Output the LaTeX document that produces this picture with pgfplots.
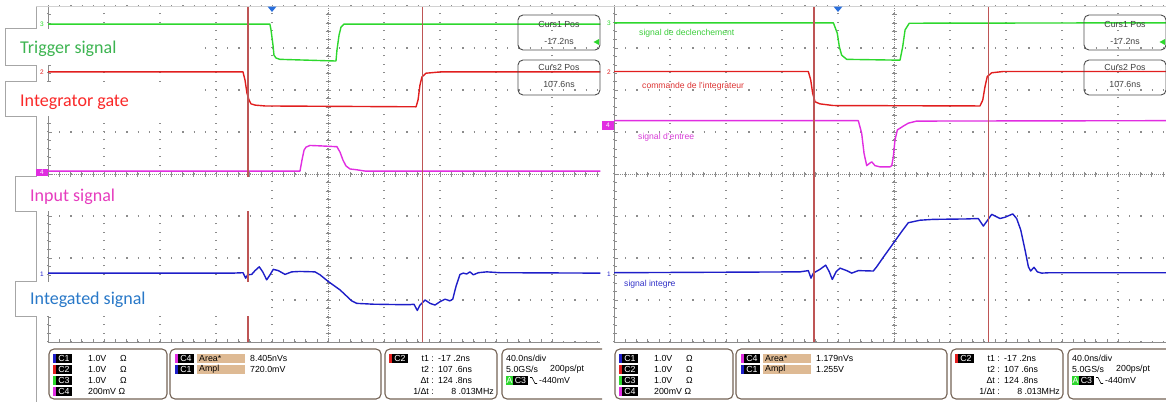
\documentclass[border=0pt]{standalone}
\usepackage{pgfplots}
\pgfplotsset{compat=1.18}
\usepackage{fontspec}
\setmainfont{Liberation Sans}
\newfontfamily\carlito{Carlito}

\definecolor{trgreen}{RGB}{45,215,45}
\definecolor{trred}{RGB}{225,30,30}
\definecolor{trmag}{RGB}{225,45,225}
\definecolor{trblue}{RGB}{30,30,200}
\definecolor{cursc}{RGB}{190,85,85}
\definecolor{gridc}{RGB}{140,140,140}
\definecolor{boxc}{RGB}{115,98,85}
\definecolor{tanc}{RGB}{222,186,148}
\definecolor{lgreen}{RGB}{60,180,80}
\definecolor{lred}{RGB}{250,40,40}
\definecolor{lmag}{RGB}{230,60,190}
\definecolor{lblue}{RGB}{40,120,200}
\definecolor{trigblue}{RGB}{40,110,220}
\definecolor{frgreen}{RGB}{60,205,60}
\definecolor{frred}{RGB}{220,50,50}
\definecolor{frmag}{RGB}{215,60,215}
\definecolor{frblue}{RGB}{50,50,200}

\newcommand\scopefont{\fontsize{8.8}{10}\selectfont}

\pgfplotsset{scopeax/.style={
  scale only axis, width=552.3pt, height=336pt,
  xmin=-160, xmax=234.5, ymin=-4, ymax=4,
  axis lines=left, axis line style={-, draw=gridc, line width=0.8pt},
  xtick={-160,-120,...,200}, ytick={-4,-3,...,4},
  minor x tick num=4, minor y tick num=4,
  xticklabels={}, yticklabels={},
  tick align=inside, major tick length=3.5pt, minor tick length=3pt,
  tick style={gridc, line width=0.6pt},
  grid=major,
  x grid style={gridc, line width=1.1pt, dash pattern=on 1.1pt off 7.3pt},
  y grid style={gridc, line width=1.1pt, dash pattern=on 1.1pt off 10.1pt},
  anchor=north west,
  every axis plot/.append style={line width=1.4pt, line join=round},
}}

% channel tag: x y colour label
\newcommand{\chtag}[4]{%
  \fill[#3] (#1,#2-4.5) rectangle ++(3,9);
  \fill[black] (#1+3,#2-4.5) rectangle ++(16,9);
  \node[text=white, font=\scopefont, inner sep=0pt, anchor=center] at (#1+11,#2) {#4};
}

% bottom information boxes (left-panel coordinates)
\newcommand{\infoboxes}[2]{%
  \draw[boxc, line width=1.1pt, rounded corners=5pt] (49,349) rectangle (167,399);
  \draw[boxc, line width=1.1pt, rounded corners=5pt] (170,349) rectangle (381,399);
  \draw[boxc, line width=1.1pt, rounded corners=5pt] (385,349) rectangle (497,399);
  \draw[boxc, line width=1.1pt, rounded corners=5pt] (502,349) rectangle (640,399);
  \chtag{53}{358.5}{trblue}{C1}
  \chtag{53}{369.5}{trred}{C2}
  \chtag{53}{380.5}{trgreen}{C3}
  \chtag{53}{391.5}{trmag}{C4}
  \chtag{175}{358.5}{trmag}{C4}
  \chtag{175}{369.5}{trblue}{C1}
  \chtag{389}{358.5}{trred}{C2}
  \fill[tanc] (197,354) rectangle (245,363);
  \fill[tanc] (197,365) rectangle (245,374);
  \fill[trgreen] (506,376) rectangle (513,385);
  \fill[black] (513,376) rectangle (528,385);
  \node[text=white, font=\scopefont, inner sep=0pt] at (509.5,380.5) {A};
  \node[text=white, font=\scopefont, inner sep=0pt] at (520.5,380.5) {C3};
  \draw[black, line width=0.6pt] (530,377.5) -- (532,377.5) -- (535,383.5) -- (537,383.5);
  \begin{scope}[every node/.style={font=\scopefont, inner sep=0pt, anchor=west}]
  \node at (88,358.5) {1.0V}; \node at (120,358.5) {Ω};
  \node at (88,369.5) {1.0V}; \node at (120,369.5) {Ω};
  \node at (88,380.5) {1.0V}; \node at (120,380.5) {Ω};
  \node at (88,391.5) {200mV Ω};
  \node at (199,358.5) {Area*};
  \node at (199,369.5) {Ampl};
  \node at (250,358.5) {#1};
  \node at (250,369.5) {#2};
  \node[anchor=east] at (434,358.5) {t1 :};
  \node[anchor=east] at (434,369.5) {t2 :};
  \node[anchor=east] at (434,380.5) {Δt :};
  \node[anchor=east] at (434,391.5) {1/Δt :};
  \node at (438,358.5) {-17 .2ns};
  \node at (438,369.5) {107 .6ns};
  \node at (438,380.5) {124 .8ns};
  \node[anchor=east] at (494,391.5) {8 .013MHz};
  \node at (506,358.5) {40.0ns/div};
  \node at (506,369.5) {5.0GS/s};
  \node at (550,369.5) {200ps/pt};
  \node at (539,380.5) {-440mV};
  \end{scope}
}

\newcommand{\cursboxes}{%
  \draw[gray!60!black, line width=0.9pt, rounded corners=5pt] (518,15) rectangle (600,50);
  \draw[gray!60!black, line width=0.9pt, rounded corners=5pt] (518,60) rectangle (600,95);
  \begin{scope}[every node/.style={font=\scopefont, inner sep=0pt, text=black!75}]
  \node at (559,24) {Curs1 Pos};
  \node at (559,41) {-17.2ns};
  \node at (559,67) {Curs2 Pos};
  \node at (559,84) {107.6ns};
  \end{scope}
  \fill[trigblue] (267.5,6.5) -- (276.5,6.5) -- (272,12) -- cycle;
  \fill[trgreen] (593.5,42) -- (599,39) -- (599,45) -- cycle;
}

\begin{document}
\begin{tikzpicture}
\path[use as bounding box] (0pt,0pt) rectangle (1166pt,-402pt);

% centre lines of the graticules
\begin{scope}[x=1pt,y=-1pt]
\foreach \ox in {0,566}{
  \draw[gridc, line width=0.6pt, dash pattern=on 1pt off 1pt] (328+\ox,6) -- (328+\ox,342);
  \draw[gridc, line width=0.6pt, dash pattern=on 1pt off 1pt] (48+\ox,174) -- (600+\ox,174);
  \foreach \k in {1,...,39} \draw[gridc, line width=0.5pt] (325.5+\ox,6+8.4*\k) -- (330.5+\ox,6+8.4*\k);
  \foreach \k in {1,...,49} \draw[gridc, line width=0.5pt] (48+\ox+11.2*\k,171.5) -- (48+\ox+11.2*\k,176.5);
}
\end{scope}

% ---------------- left scope ----------------
\begin{axis}[scopeax, at={(48pt,-6pt)}]
\addplot[trgreen] coordinates {(-160,3.57) (-1.5,3.57) (-0.7,3.43) (0.7,3.07) (1.4,2.83) (2.9,2.76) (5.7,2.73) (45.7,2.69) (46.4,2.95) (47.9,3.31) (49.3,3.5) (51.4,3.57) (235,3.57)};
\addplot[trred] coordinates {(-160,2.43) (-20.7,2.43) (-19.3,2.24) (-17.9,1.93) (-16.4,1.76) (-15,1.67) (-12,1.64) (-5,1.62) (102.9,1.6) (104.3,1.76) (105.7,2.12) (107.1,2.31) (110,2.4) (120,2.43) (235,2.43)};
\addplot[trmag] coordinates {(-160,0.07) (20,0.07) (21.4,0.33) (22.9,0.57) (24.3,0.64) (27.1,0.68) (34.3,0.67) (46.4,0.65) (48.6,0.52) (50.7,0.33) (52.9,0.19) (55.7,0.12) (60.7,0.1) (66.4,0.07) (235,0.07)};
\addplot[trblue] coordinates {(-160,-2.36) (-27.9,-2.36) (-20.7,-2.35) (-18.8,-2.48) (-17.4,-2.40) (-14.5,-2.39) (-12.1,-2.30) (-9.1,-2.21) (-6.6,-2.33) (-3.8,-2.52) (-1.4,-2.40) (0.9,-2.27) (4.5,-2.30) (9.3,-2.39) (14.1,-2.33) (20,-2.32) (30.7,-2.33) (34.3,-2.40) (40.2,-2.56) (48.6,-2.76) (56.9,-3.02) (60.5,-3.08) (72.4,-3.10) (91.4,-3.11) (98.6,-3.11) (101.4,-3.10) (103.8,-3.25) (105.7,-3.12) (109.3,-3.0) (112.9,-3.08) (116.4,-3.12) (120,-3.04) (123.6,-2.98) (127.1,-3.02) (129.1,-2.98) (131.4,-2.68) (134.3,-2.39) (136.6,-2.36) (139.1,-2.38) (141.4,-2.33) (143.8,-2.40) (147.4,-2.35) (153.4,-2.33) (162.9,-2.35) (235,-2.36)};
\addplot[cursc, line width=1.5pt] coordinates {(-17.2,-4) (-17.2,4)};
\addplot[cursc, line width=1.5pt] coordinates {(107.6,-4) (107.6,4)};
\end{axis}

% ---------------- right scope ----------------
\begin{axis}[scopeax, at={(614pt,-6pt)}]
\addplot[trgreen] coordinates {(-160,3.6) (-3.3,3.6) (-0.5,3.35) (0.95,3.03) (2.6,2.83) (6.2,2.73) (44.3,2.71) (46.2,3.03) (47.9,3.43) (50.9,3.59) (234.5,3.6)};
\addplot[trred] coordinates {(-160,2.44) (-21.2,2.44) (-19.5,2.24) (-18.1,1.92) (-16.4,1.72) (-12.9,1.67) (-3.3,1.63) (101.4,1.62) (103.4,1.76) (105,2.08) (106.6,2.32) (109.8,2.41) (117.9,2.44) (234.5,2.44)};
\addplot[trmag] coordinates {(-160,1.27) (14.5,1.27) (16.9,0.97) (18.6,0.49) (20.5,0.2) (22.4,0.25) (24.1,0.29) (26.4,0.2) (30,0.17) (37.1,0.17) (38.4,0.2) (39.5,0.41) (40.7,0.81) (42.4,1.05) (44.3,1.09) (46.6,1.14) (50.2,1.21) (56.2,1.26) (234.5,1.27)};
\addplot[trblue] coordinates {(-160,-2.35) (-27.1,-2.33) (-21.2,-2.30) (-19.3,-2.48) (-17.6,-2.36) (-12.9,-2.27) (-8.8,-2.17) (-6.2,-2.33) (-4.1,-2.51) (-1.4,-2.33) (1.4,-2.24) (6.2,-2.30) (9.8,-2.36) (14.5,-2.30) (25.2,-2.31) (27.6,-2.21) (32.4,-1.98) (39.5,-1.65) (45.5,-1.37) (50.2,-1.16) (58.6,-1.10) (68.1,-1.08) (91.9,-1.07) (100.2,-1.06) (103.8,-1.24) (106.2,-1.13) (109.8,-0.96) (115.7,-1.06) (119.3,-1.03) (124.8,-0.95) (127.6,-1.06) (130.5,-1.33) (133.6,-1.81) (136,-2.21) (137.6,-2.31) (140,-2.22) (142.4,-2.33) (145.5,-2.36) (151.4,-2.35) (234.5,-2.35)};
\addplot[cursc, line width=1.5pt] coordinates {(-17.2,-4) (-17.2,4)};
\addplot[cursc, line width=1.5pt] coordinates {(107.6,-4) (107.6,4)};
\end{axis}

% ---------------- overlays ----------------
\begin{scope}[x=1pt,y=-1pt]
  \draw[gray!35, line width=0.6pt] (36,6.5) -- (1166,6.5);
  \draw[gray!70, line width=0.9pt] (36,6.5) -- (36,402);
  % English label tabs
  \fill[white] (5.5,28.5) rectangle (200,64.5);
  \draw[gray!70, line width=0.9pt] (36,28) -- (5,28) -- (5,65) -- (36,65);
  \fill[white] (5.5,82.2) rectangle (200,116.2);
  \draw[gray!70, line width=0.9pt] (36,81.7) -- (5,81.7) -- (5,116.7) -- (36,116.7);
  \fill[white] (15.5,176.5) rectangle (262,210.5);
  \draw[gray!70, line width=0.9pt] (36,176) -- (15,176) -- (15,211) -- (36,211);
  \fill[white] (15.5,281.5) rectangle (262,315.5);
  \draw[gray!70, line width=0.9pt] (36,281) -- (15,281) -- (15,316) -- (36,316);
  \begin{scope}[every node/.style={font=\carlito\fontsize{18}{20}\selectfont, inner sep=0pt, anchor=base west}]
  \node[text=lgreen] at (20,53.4) {Trigger signal};
  \node[text=lred] at (20,106.8) {Integrator gate};
  \node[text=lmag] at (30,201) {Input signal};
  \node[text=lblue] at (30,304.5) {Integated signal};
  \end{scope}
  % channel markers
  \begin{scope}[every node/.style={font=\fontsize{6.5}{7}\selectfont, inner sep=0pt}]
  \node[text=trgreen] at (42,24) {3};
  \node[text=trred] at (42,72) {2};
  \fill[trmag] (36,168.5) rectangle (48,176);
  \node[text=white] at (42,172.3) {4};
  \node[text=trblue] at (42,274) {1};
  \node[text=trgreen] at (609,23) {3};
  \node[text=trred] at (609,72) {2};
  \fill[trmag] (602,120.5) rectangle (614,130);
  \node[text=white] at (608,125.3) {4};
  \node[text=trblue] at (609,274) {1};
  \end{scope}
  % cursor readouts
  \cursboxes
  \begin{scope}[xshift=566pt]\cursboxes\end{scope}
  % French labels
  \begin{scope}[every node/.style={font=\fontsize{8.6}{10}\selectfont, inner sep=0pt, anchor=west}]
  \node[text=frgreen] at (639,33) {signal de declenchement};
  \node[text=frred] at (642,86) {commande de l'integrateur};
  \node[text=frmag] at (638,137) {signal d'entree};
  \node[text=frblue] at (624,284) {signal integre};
  \end{scope}
  % bottom information boxes
  \begin{scope}
    \clip (0,340) rectangle (602,402);
    \infoboxes{8.405nVs}{720.0mV}
  \end{scope}
  \begin{scope}[xshift=566pt]
    \infoboxes{1.179nVs}{1.255V}
  \end{scope}
\end{scope}
\end{tikzpicture}
\end{document}
